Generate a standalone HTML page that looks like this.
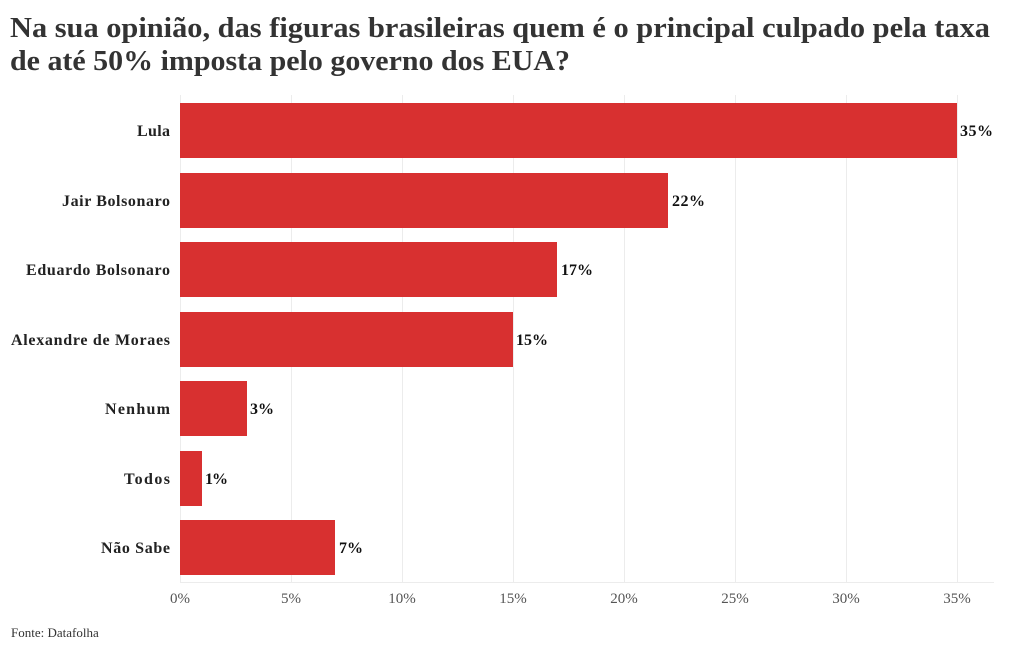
<!DOCTYPE html>
<html><head><meta charset="utf-8"><style>
body{margin:0;width:1020px;height:650px;background:#fff;font-family:"Liberation Serif",serif;overflow:hidden}
</style></head><body>
<svg width="1020" height="650" xmlns="http://www.w3.org/2000/svg" font-family="Liberation Serif, serif">
<text x="10" y="37" font-size="29" font-weight="bold" fill="#333" textLength="980" lengthAdjust="spacingAndGlyphs">Na sua opinião, das figuras brasileiras quem é o principal culpado pela taxa</text>
<text x="10" y="70" font-size="29" font-weight="bold" fill="#333" textLength="560" lengthAdjust="spacingAndGlyphs">de até 50% imposta pelo governo dos EUA?</text>
<g stroke="#ececec" stroke-width="1">
<line x1="180.5" y1="95" x2="180.5" y2="582"/>
<line x1="291.5" y1="95" x2="291.5" y2="582"/>
<line x1="402.5" y1="95" x2="402.5" y2="582"/>
<line x1="513.5" y1="95" x2="513.5" y2="582"/>
<line x1="624.5" y1="95" x2="624.5" y2="582"/>
<line x1="735.5" y1="95" x2="735.5" y2="582"/>
<line x1="846.5" y1="95" x2="846.5" y2="582"/>
<line x1="957.5" y1="95" x2="957.5" y2="582"/>
<line x1="180" y1="582.5" x2="994" y2="582.5"/>
</g>
<g fill="#d83030">
<rect x="180" y="103" width="777" height="55"/>
<rect x="180" y="173" width="488" height="55"/>
<rect x="180" y="242" width="377" height="55"/>
<rect x="180" y="312" width="333" height="55"/>
<rect x="180" y="381" width="67" height="55"/>
<rect x="180" y="451" width="22" height="55"/>
<rect x="180" y="520" width="155" height="55"/>
</g>
<g font-size="16" font-weight="bold" fill="#222" lengthAdjust="spacingAndGlyphs">
<text x="137" y="136" textLength="33">Lula</text>
<text x="62" y="206" textLength="108">Jair Bolsonaro</text>
<text x="26" y="275" textLength="144">Eduardo Bolsonaro</text>
<text x="11" y="345" textLength="159">Alexandre de Moraes</text>
<text x="105" y="414" textLength="65">Nenhum</text>
<text x="124" y="484" textLength="46">Todos</text>
<text x="101" y="553" textLength="69">Não Sabe</text>
</g>
<g font-size="16" font-weight="bold" fill="#111" lengthAdjust="spacingAndGlyphs">
<text x="960" y="136" textLength="33">35%</text>
<text x="672" y="206" textLength="33">22%</text>
<text x="561" y="275" textLength="32">17%</text>
<text x="516" y="345" textLength="32">15%</text>
<text x="250" y="414" textLength="24">3%</text>
<text x="205" y="484" textLength="23">1%</text>
<text x="339" y="553" textLength="24">7%</text>
</g>
<g font-size="15" fill="#555" text-anchor="middle">
<text x="180" y="603">0%</text>
<text x="291" y="603">5%</text>
<text x="402" y="603">10%</text>
<text x="513" y="603">15%</text>
<text x="624" y="603">20%</text>
<text x="735" y="603">25%</text>
<text x="846" y="603">30%</text>
<text x="957" y="603">35%</text>
</g>
<text x="11" y="637" font-size="13" fill="#333">Fonte: Datafolha</text>
</svg>
</body></html>
